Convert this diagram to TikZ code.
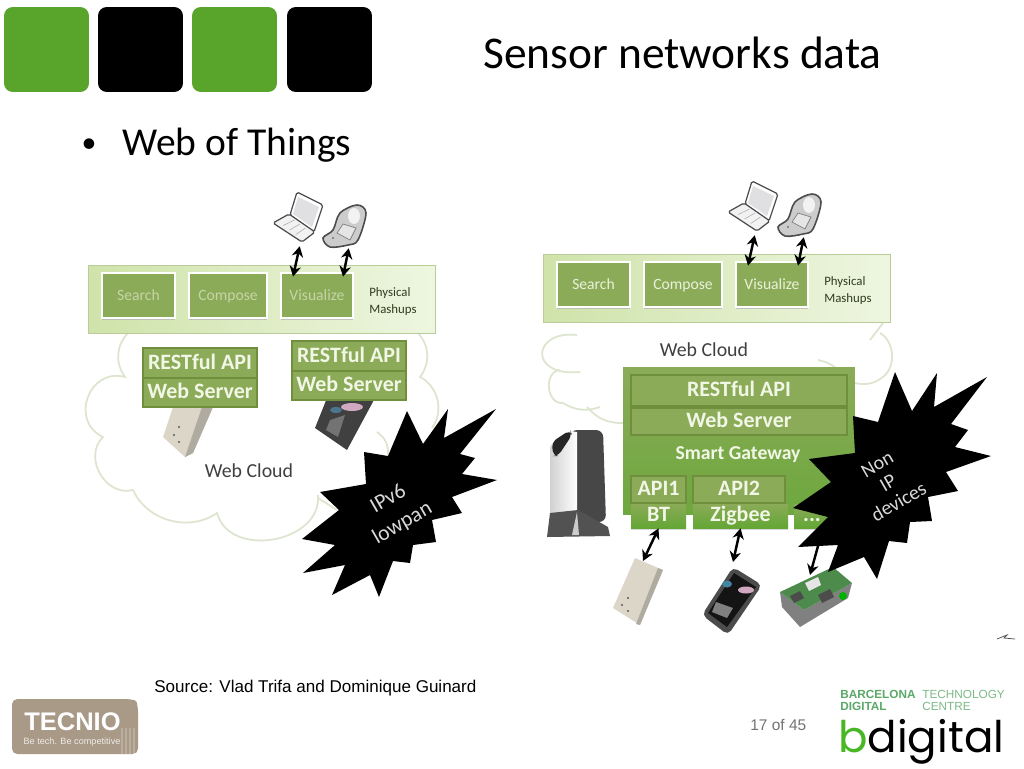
\documentclass[tikz,border=0pt]{standalone}
\usepackage{fontspec}
\setmainfont{Carlito}
\newfontfamily\arialfont{Liberation Sans}
\newfontfamily\logofont{Poppins}
\usepackage{tikz}
\usetikzlibrary{calc,positioning,arrows.meta,shadows}
\definecolor{tabgreen}{HTML}{59A52C}
\definecolor{olivebox}{HTML}{8BAB58}
\definecolor{oliveedge}{HTML}{6F8F3E}
\definecolor{barleft}{HTML}{CFE3AA}
\definecolor{barright}{HTML}{EEF6E0}
\definecolor{cloudline}{HTML}{DDE5CF}
\definecolor{dimtext}{HTML}{C5D5A8}
\definecolor{lighttext}{HTML}{EAF1DC}
\definecolor{capstext}{HTML}{F2F6E6}
\definecolor{tecnio}{HTML}{A99A88}
\definecolor{bdgreen}{HTML}{5BA869}
\definecolor{plugtan}{HTML}{DCD6C9}
\newcommand{\fs}[2]{\fontsize{#1}{#2}\selectfont}
\tikzstyle{tab}       = [rectangle, rounded corners=5pt, inner sep=0pt, minimum width=1.7cm, minimum height=1.7cm]
\tikzstyle{bar}       = [rectangle, inner sep=0pt, left color=barleft, right color=barright, draw=barleft!90!black, line width=.5pt]
\tikzstyle{app}       = [rectangle, inner sep=0pt, fill=olivebox, draw=white, line width=1.6pt, minimum height=.9cm,
                         text height=1.6ex, text depth=.4ex, font=\fs{8.9}{11},
                         drop shadow={shadow xshift=0pt, shadow yshift=-1.2pt, fill=black!30, opacity=.7}]
\tikzstyle{layer}     = [rectangle, inner sep=0pt, fill=olivebox, draw=oliveedge, line width=1.3pt, text=capstext,
                         text height=1.8ex, text depth=.3ex, font=\bfseries\fs{12.5}{14}]
\tikzstyle{port}      = [rectangle, inner sep=0pt, top color=olivebox, bottom color=tabgreen!80!olivebox, text=capstext,
                         text height=1.8ex, text depth=.4ex, font=\bfseries\fs{12.5}{14},
                         drop shadow={shadow xshift=0pt, shadow yshift=-1pt, fill=black!25, opacity=.6}]
\tikzstyle{gate}      = [rectangle, inner sep=0pt, top color=olivebox, bottom color=tabgreen!60!olivebox]
\tikzstyle{cloudedge} = [draw=cloudline, line width=1pt]
\tikzstyle{bothways}  = [line width=1.4pt, {Stealth[length=6pt,width=6.5pt]}-{Stealth[length=6pt,width=6.5pt]}]
\tikzstyle{cloudtext} = [inner sep=0pt, text=black!75, font=\fs{11.3}{13}]
\tikzstyle{bursttext} = [inner sep=0pt, text=black!15, align=center, rotate=30]
\begin{document}
\begin{tikzpicture}[x=.02cm,y=-.02cm]
	\fill[white] (0,0) rectangle (1024,768);
	\useasboundingbox (0,0) rectangle (1024,768);
	% header
	\node[tab,fill=tabgreen] (tab1) at (46.5,49.5) {};
	\node[tab,fill=black] (tab2) at (140.5,49.5) {};
	\node[tab,fill=tabgreen] (tab3) at (234.5,49.5) {};
	\node[tab,fill=black] (tab4) at (329.5,49.5) {};
	\node[inner sep=0pt,anchor=base west,font=\fs{25.85}{30}] (title) at (483,68) {Sensor networks data};
	\node[inner sep=0pt,anchor=base,font=\fs{17}{20}] (dot) at (89,152) {•};
	\node[inner sep=0pt,anchor=base west,font=\fs{22.5}{26}] (sub) at (122,155) {Web of Things};
	% left cloud
	\draw[cloudedge] (128,333) to[bend right=40] (125,377) to[bend right=85,looseness=1.5] (103,437)
		to[bend right=75,looseness=1.2] (133,490) to[bend right=50] (217,513) to[bend right=85,looseness=1.2] (318,495);
	\draw[cloudedge] (318,498) -- (337,510);
	\draw[cloudedge] (418,333) to[bend left=40] (420,377) to[bend left=50] (432,428);
	\draw[cloudedge] (377,432) to[bend left=30] (388,455);
	% right cloud
	\draw[cloudedge] (577,335) .. controls (532,330) and (528,377) .. (580,372);
	\draw[cloudedge] (560,370) to[bend right=90,looseness=1.3] (563,403) to[bend right=25] (600,407);
	\draw[cloudedge] (587,407) to[bend right=25] (623,423);
	\draw[cloudedge] (883,323) -- (870,340);
	\draw[cloudedge] (880,333) to[bend left=55] (883,377) to[bend left=25] (855,383);
	\draw[cloudedge] (818,360) to[bend left=10] (835,367);
	\node[cloudtext] (webcloudl) at (249,471) {Web Cloud};
	\node[cloudtext] (webcloudr) at (704,350) {Web Cloud};
	% top block, same on both sides
	\foreach \s/\dx/\dy/\tc in {l/0/0/dimtext,r/455/-11/lighttext} {
		\begin{scope}[shift={(\dx,\dy)}]
			\node[bar,minimum width=6.94cm,minimum height=1.36cm] (mash\s) at (261.5,299) {};
			\node[app,minimum width=1.46cm,text=\tc] (search\s) at (138.5,295.5) {Search};
			\node[app,minimum width=1.56cm,text=\tc] (compose\s) at (228,295.5) {Compose};
			\node[app,minimum width=1.44cm,text=\tc] (visual\s) at (317,295.5) {Visualize};
			\node[inner sep=0pt,align=left,text=black!65!olivebox,font=\fs{7.3}{9.6}] (phys\s) at (393,302) {Physical\\Mashups};
			% laptop
			\draw[black!70,fill=white,line width=.7pt,rounded corners=1pt] (297,192) -- (323,205) -- (314,232) -- (290,215) -- cycle;
			\fill[blue!8!black!12] (298,197) -- (319,207) -- (312,227) -- (293,214) -- cycle;
			\draw[black!70,fill=black!5,line width=.7pt,rounded corners=1pt] (273,223) -- (289,214) -- (315,232) -- (302,242) -- cycle;
			\foreach \k in {1,2,3} \draw[black!35,line width=.3pt] ($(277,221)!\k/4!(302,239)$) -- ($(289,216)!\k/4!(311,232)$);
			\node[inner sep=0pt] (laptop\s) at (300,245) {};
			% handset
			\draw[black!70,fill=black!20,line width=.9pt] plot[smooth cycle,tension=.55] coordinates {(357,205) (366,213) (358,240) (348,245) (330,247) (323,238) (333,230) (340,213)};
			\fill[blue!5!black!5] (354,216) ellipse (6 and 8);
			\draw[black!50,fill=black!10,line width=.4pt] (343,224) -- (356,228) -- (350,240) -- (337,233) -- cycle;
			\fill[black!55] (333,238) circle (1.2);
			\node[inner sep=0pt] (handset\s) at (349,247) {};
			\draw[bothways] (laptop\s) -- ($(visual\s.north)+(-24,5)$);
			\draw[bothways] (handset\s) -- ($(visual\s.north)+(26,5)$);
		\end{scope}
	}
	% left devices
	\fill[plugtan] (173,407) -- (213,407) -- (193,453) -- (185,457) -- (163,437) -- cycle;
	\fill[plugtan!80!black] (213,407) -- (193,453) -- (185,457) -- (202,407) -- cycle;
	\foreach \px/\py in {179/427,174/435,179/442} \fill[black!65] (\px,\py) circle (1.1);
	\fill[black!75] (315,428) -- (327,398) -- (375,398) -- (347,450) -- cycle;
	\fill[magenta!50!black!40] (352,407) ellipse (11 and 4);
	\fill[cyan!50!black] (336,410) ellipse (6 and 3);
	\fill[black!55] (330,420) -- (345,415) -- (338,437) -- (326,430) -- cycle;
	% left layers
	\node[layer,minimum width=2.28cm,minimum height=.6cm] (restl) at (200,363) {RESTful API};
	\node[layer,minimum width=2.28cm,minimum height=.58cm] (serverl) at (200,392.5) {Web Server};
	\node[layer,minimum width=2.28cm,minimum height=.6cm] (restr) at (349,356) {RESTful API};
	\node[layer,minimum width=2.28cm,minimum height=.58cm] (serverr) at (349,385.5) {Web Server};
	% gateway
	\node[gate,minimum width=4.64cm,minimum height=2.96cm] (gateway) at (739,441) {};
	\node[layer,minimum width=4.32cm,minimum height=.62cm] (apigw) at (739,390.5) {RESTful API};
	\node[layer,minimum width=4.32cm,minimum height=.54cm] (servergw) at (739,421.5) {Web Server};
	\node[inner sep=0pt,text=capstext,font=\bfseries\fs{11.2}{13}] (smart) at (738,455) {Smart Gateway};
	\node[layer,minimum width=1.1cm,minimum height=.54cm] (apione) at (658.5,489.5) {API1};
	\node[layer,minimum width=1.84cm,minimum height=.54cm] (apitwo) at (739,489.5) {API2};
	\node[port,minimum width=1.1cm,minimum height=.48cm] (bt) at (658.5,516) {BT};
	\node[port,minimum width=1.9cm,minimum height=.48cm] (zigbee) at (740.5,516) {Zigbee};
	\node[port,minimum width=.72cm,minimum height=.48cm] (dots) at (812,516) {...};
	% router
	\fill[black!72,rounded corners=4pt] (570,430) -- (603,430) -- (606,522) -- (570,522) -- cycle;
	\shade[left color=black!18,right color=white] (550,447) to[bend left=20] (571,431) -- (577,432) -- (577,512) -- (550,514) -- cycle;
	\fill[black!85,rounded corners=3pt] (552,442) -- (570,430) -- (572,435) -- (558,456) -- (553,456) -- cycle;
	\fill[black!68] (547,537) -- (610,536) -- (608,527) -- (578,510) -- (550,513) -- cycle;
	\fill[black!20] (572,535) -- (577,512) -- (579,535) -- cycle;
	% right devices
	\fill[plugtan] (635,558) -- (663,570) -- (640,625) -- (613,608) -- cycle;
	\fill[plugtan!80!black] (663,570) -- (640,625) -- (636,624) -- (658,568) -- cycle;
	\foreach \px/\py in {628/598,622/605,628/611} \fill[black!65] (\px,\py) circle (1.1);
	\coordinate (plugtop) at (643,561);
	\fill[black!70,rounded corners=3pt] (733,567) -- (762,585) -- (728,635) -- (702,615) -- cycle;
	\fill[black!92] (734,573) -- (756,587) -- (727,627) -- (708,613) -- cycle;
	\fill[magenta!50!black!40] (746,590) ellipse (8 and 3.5);
	\fill[cyan!60!black] (727,584) ellipse (5 and 3.5);
	\fill[black!50] (716,602) -- (733,608) -- (727,618) -- (712,612) -- cycle;
	\coordinate (phonetop) at (733,562);
	\fill[black!50] (780,592) -- (782,607) -- (800,627) -- (848,598) -- (852,583) -- (804,610) -- cycle;
	\fill[green!35!black!70] (780,592) -- (833,567) -- (852,583) -- (804,610) -- cycle;
	\fill[black!10] (805,583) -- (818,577) -- (821,585) -- (809,591) -- cycle;
	\fill[black!70] (818,595) -- (830,589) -- (834,597) -- (822,603) -- cycle;
	\fill[black!70] (790,596) -- (800,591) -- (804,598) -- (794,603) -- cycle;
	\fill[green!70!black] (843,596) circle (4);
	\coordinate (motetop) at (810,575);
	\coordinate (dotsout) at (823,528);
	\draw[bothways] (bt.south) -- (plugtop);
	\draw[bothways] (zigbee.south) -- (phonetop);
	\draw[bothways] (dotsout) -- (motetop);
	% bursts
	\fill[black] (407,411) -- (423,444) -- (448,409) -- (444,438) -- (496,409) -- (460,454) -- (475,458) -- (462,474) -- (497,480) -- (452,497) -- (462,513) -- (432,520) -- (436,542) -- (413,545) -- (410,563) -- (393,561) -- (379,597) -- (370,575) -- (332,595) -- (345,565) -- (303,573) -- (335,545) -- (302,539) -- (339,510) -- (320,492) -- (366,484) -- (364,452) -- (388,456) -- cycle;
	\fill[black] (895,372) -- (912,411) -- (937,373) -- (934,407) -- (987,377) -- (951,424) -- (968,430) -- (955,447) -- (991,456) -- (946,472) -- (958,491) -- (928,497) -- (932,521) -- (910,522) -- (907,543) -- (889,541) -- (877,579) -- (864,557) -- (828,572) -- (838,545) -- (798,547) -- (828,517) -- (793,508) -- (831,482) -- (809,459) -- (855,453) -- (853,416) -- (878,422) -- cycle;
	\node[bursttext,font=\fs{12.3}{16}] (ipv) at (395.5,511.5) {IPv6\\lowpan};
	\node[bursttext,font=\fs{11.3}{12.3}] (nonip) at (888,483) {Non\\IP\\devices};
	% mark in the corner
	\draw[black!70,line width=.4pt] (997,639) -- (1007,635) -- (1004,638) -- (1015,639);
	% footer
	\node[inner sep=0pt,anchor=base west,font=\arialfont\fs{9.7}{11}] (source) at (154,692) {Source: Vlad Trifa and Dominique Guinard};
	\node[inner sep=0pt,anchor=base west,text=black!55,font=\arialfont\fs{8.8}{10}] (page) at (750,730) {17 of 45};
	\fill[tecnio,rounded corners=3pt] (12,699) -- (130,699) to[bend left=30] (138,707) -- (138,754) -- (12,754) -- cycle;
	\foreach \cx in {122,126,130,134} \draw[white,opacity=.2,line width=1pt] (\cx,728) -- (\cx,754);
	\node[inner sep=0pt,text=white,font=\arialfont\bfseries\fs{14.5}{16}] (tec) at (72.5,722) {TECNIO};
	\node[inner sep=0pt,text=white,opacity=.8,font=\arialfont\fs{5.2}{6}] (tag) at (72,742) {Be tech. Be competitive};
	\node[inner sep=0pt,anchor=west,align=left,text=bdgreen,font=\arialfont\bfseries\fs{6.7}{6.8}] (bcn) at (840,700) {BARCELONA\\DIGITAL};
	\node[inner sep=0pt,anchor=west,align=left,text=bdgreen!80,font=\arialfont\fs{6.7}{6.8}] (centre) at (922,700) {TECHNOLOGY\\CENTRE};
	\node[inner sep=0pt,anchor=base west,font=\logofont\fs{24.8}{28}] (bdig) at (838,752) {\textcolor{tabgreen!80!green}{b}digital};
\end{tikzpicture}
\end{document}
